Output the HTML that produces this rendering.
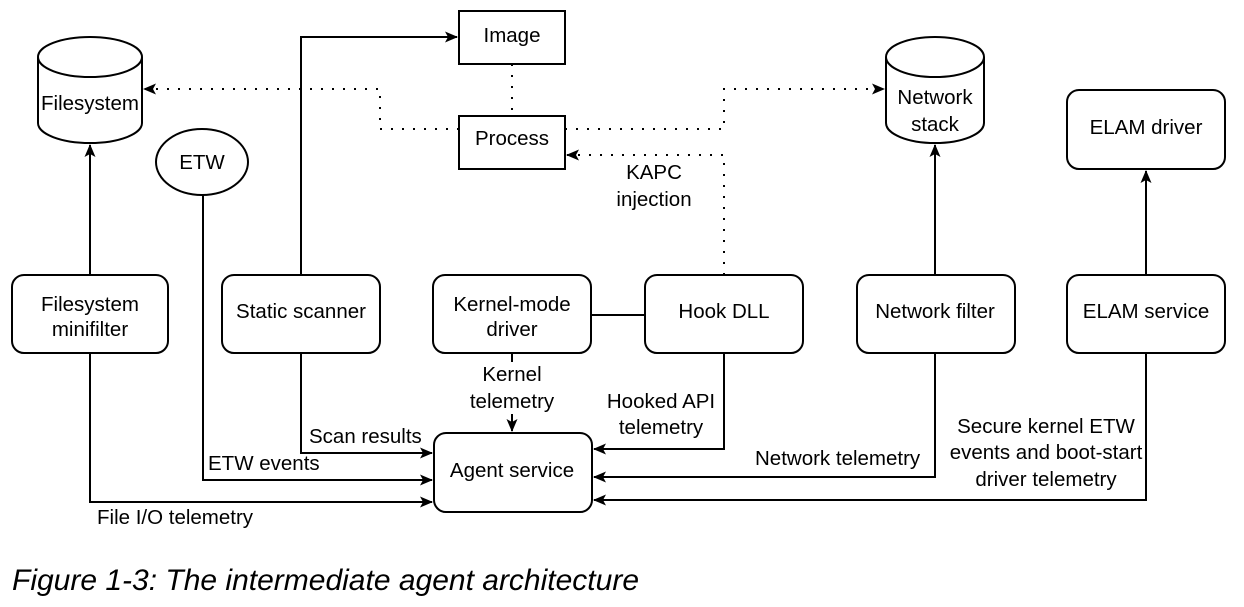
<!DOCTYPE html>
<html><head><meta charset="utf-8"><style>
body{margin:0;background:#fff;}
svg text{font-family:"Liberation Sans",sans-serif;font-size:20.5px;fill:#000;}
</style></head><body>
<svg width="1244" height="602" viewBox="0 0 1244 602" xmlns="http://www.w3.org/2000/svg">
<defs>
<marker id="a" markerWidth="13" markerHeight="11" refX="12" refY="5.5" orient="auto" markerUnits="userSpaceOnUse"><path d="M0,0 L13,5.5 L0,11 L3,5.5 Z" fill="#000"/></marker>
</defs>
<g fill="none" stroke="#000" stroke-width="2">
<path d="M38,57 L38,123 A52,20 0 0 0 142,123 L142,57"/>
<ellipse cx="90" cy="57" rx="52" ry="20"/>
<path d="M886,57 L886,123 A49,20 0 0 0 984,123 L984,57"/>
<ellipse cx="935" cy="57" rx="49" ry="20"/>
<rect x="459" y="11" width="106" height="53"/>
<rect x="459" y="116" width="106" height="53"/>
<ellipse cx="202" cy="162" rx="46" ry="33"/>
<rect x="1067" y="90" width="158" height="79" rx="12"/>
<rect x="12" y="275" width="156" height="78" rx="12"/>
<rect x="222" y="275" width="158" height="78" rx="12"/>
<rect x="433" y="275" width="158" height="78" rx="12"/>
<rect x="645" y="275" width="158" height="78" rx="12"/>
<rect x="857" y="275" width="158" height="78" rx="12"/>
<rect x="1067" y="275" width="158" height="78" rx="12"/>
<rect x="434" y="433" width="158" height="79" rx="12"/>
</g>
<g fill="none" stroke="#000" stroke-width="2" stroke-dasharray="2,9">
<path d="M459,129 L380,129 L380,89 L144,89" marker-end="url(#a)"/>
<path d="M565,129 L724,129 L724,89 L884,89" marker-end="url(#a)"/>
<path d="M724,275 L724,155 L567,155" marker-end="url(#a)"/>
<path d="M512,64 L512,116"/>
</g>
<g fill="none" stroke="#000" stroke-width="2">
<path d="M90,275 L90,145" marker-end="url(#a)"/>
<path d="M301,275 L301,37 L457,37" marker-end="url(#a)"/>
<path d="M935,275 L935,145" marker-end="url(#a)"/>
<path d="M1146,275 L1146,171" marker-end="url(#a)"/>
<path d="M591,315 L645,315"/>
<path d="M512,353 L512,431" marker-end="url(#a)"/>
<path d="M301,353 L301,453 L432,453" marker-end="url(#a)"/>
<path d="M203,195 L203,480 L432,480" marker-end="url(#a)"/>
<path d="M90,353 L90,502 L432,502" marker-end="url(#a)"/>
<path d="M724,353 L724,449 L594,449" marker-end="url(#a)"/>
<path d="M935,353 L935,477 L594,477" marker-end="url(#a)"/>
<path d="M1146,353 L1146,500 L594,500" marker-end="url(#a)"/>
</g>
<rect x="466" y="362" width="92" height="52" fill="#fff"/>
<g text-anchor="middle">
<text x="512" y="42">Image</text>
<text x="512" y="145">Process</text>
<text x="90" y="110">Filesystem</text>
<text x="935" y="104">Network</text>
<text x="935" y="131">stack</text>
<text x="202" y="169">ETW</text>
<text x="1146" y="134">ELAM driver</text>
<text x="654" y="179">KAPC</text>
<text x="654" y="206">injection</text>
<text x="90" y="311">Filesystem</text>
<text x="90" y="336">minifilter</text>
<text x="301" y="318">Static scanner</text>
<text x="512" y="311">Kernel-mode</text>
<text x="512" y="336">driver</text>
<text x="724" y="318">Hook DLL</text>
<text x="935" y="318">Network filter</text>
<text x="1146" y="318">ELAM service</text>
<text x="512" y="477">Agent service</text>
<text x="512" y="381">Kernel</text>
<text x="512" y="408">telemetry</text>
<text x="661" y="408">Hooked API</text>
<text x="661" y="434">telemetry</text>
<text x="1046" y="433">Secure kernel ETW</text>
<text x="1046" y="459">events and boot-start</text>
<text x="1046" y="486">driver telemetry</text>
</g>
<text x="309" y="443">Scan results</text>
<text x="208" y="470">ETW events</text>
<text x="97" y="524">File I/O telemetry</text>
<text x="755" y="465">Network telemetry</text>
<text x="12" y="590" style="font-size:30px;font-style:italic;">Figure 1-3: The intermediate agent architecture</text>
</svg>
</body></html>
